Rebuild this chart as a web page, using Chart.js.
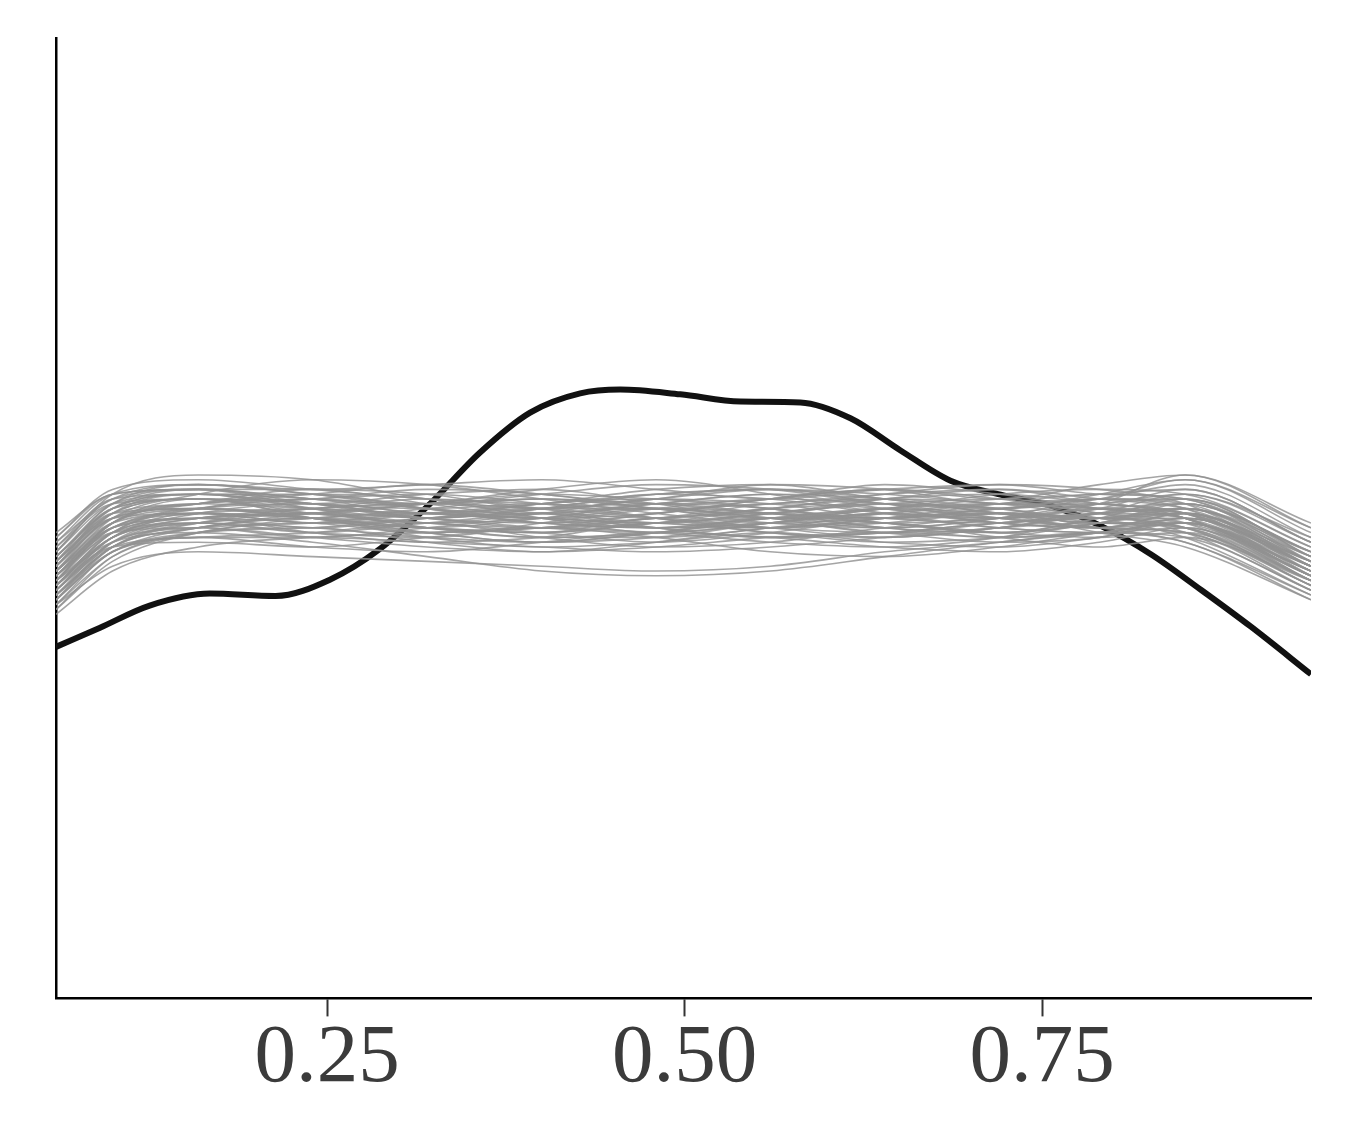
<!DOCTYPE html>
<html>
<head>
<meta charset="utf-8">
<script src="https://cdn.jsdelivr.net/npm/chart.js@4"></script>
<style>
html,body{margin:0;padding:0;background:#fff;}
#wrap{width:1350px;height:1125px;}
</style>
</head>
<body>
<div id="wrap"><canvas id="c" width="1350" height="1125"></canvas></div>
<script>
// x tick labels
const xTicks = [0.25, 0.50, 0.75];
const xMin = 0.0605, xMax = 0.938;

// observed density (black)
const obsX = [0.0605,0.0913,0.126,0.168,0.214,0.252,0.287,0.322,0.357,0.392,0.427,0.455,0.497,0.539,0.581,0.616,0.651,0.686,0.721,0.756,0.791,0.826,0.861,0.896,0.938];
const obsY = [0.732,0.772,0.818,0.843,0.838,0.872,0.936,1.030,1.137,1.220,1.260,1.268,1.258,1.243,1.241,1.208,1.141,1.078,1.049,1.026,0.984,0.925,0.851,0.774,0.675];

// replicated densities (grey), evaluated at these x positions
const repX = [0.0605,0.10,0.16,0.24,0.32,0.40,0.48,0.56,0.64,0.72,0.79,0.85,0.938];
const rep01 = [0.86,0.97,1.02,1.01,0.99,1.00,1.03,1.02,0.99,1.00,1.02,1.01,0.90];
const rep02 = [0.91,1.01,1.04,1.03,1.00,0.98,0.99,1.01,1.03,1.02,0.99,0.98,0.87];
const rep03 = [0.83,0.94,0.99,1.00,1.02,1.04,1.02,0.99,0.98,1.00,1.03,1.04,0.92];
const rep04 = [0.95,1.04,1.07,1.05,1.02,1.01,1.03,1.05,1.04,1.01,1.00,1.02,0.93];
const rep05 = [0.81,0.91,0.97,0.99,0.98,0.97,0.99,1.00,0.98,0.96,0.97,0.99,0.88];
const rep06 = [0.88,0.99,1.03,1.04,1.06,1.05,1.02,1.00,1.01,1.03,1.04,1.03,0.91];
const rep07 = [0.85,0.95,0.99,0.97,0.96,0.99,1.02,1.04,1.03,1.00,0.98,0.97,0.85];
const rep08 = [0.92,1.02,1.05,1.02,0.98,0.96,0.97,1.00,1.02,1.04,1.05,1.06,0.95];
const rep09 = [0.84,0.93,0.96,0.96,0.95,0.94,0.93,0.94,0.96,0.98,0.99,0.98,0.86];
const rep10 = [0.89,1.00,1.05,1.08,1.07,1.04,1.01,0.99,1.00,1.02,1.03,1.00,0.89];
const rep11 = [0.87,0.98,1.01,0.99,1.01,1.03,1.05,1.06,1.04,1.01,0.99,0.99,0.89];
const rep12 = [0.93,1.03,1.05,1.03,1.02,1.03,1.00,0.97,0.96,0.98,1.01,1.05,0.96];
const rep13 = [0.82,0.90,0.93,0.92,0.91,0.90,0.89,0.90,0.93,0.95,0.97,0.96,0.85];
const rep14 = [0.90,1.01,1.02,1.00,0.97,0.98,1.00,1.02,1.05,1.07,1.06,1.03,0.90];
const rep15 = [0.86,0.96,1.00,1.02,1.04,1.02,0.98,0.96,0.97,0.99,1.00,1.00,0.90];
const rep16 = [0.97,1.05,1.06,1.04,1.03,1.05,1.07,1.06,1.03,1.02,1.04,1.08,0.97];
const rep17 = [0.84,0.94,0.98,1.00,0.99,0.97,0.95,0.97,1.00,1.01,0.98,0.95,0.84];
const rep18 = [0.88,0.97,1.00,0.98,1.00,1.02,1.03,1.01,0.99,0.97,0.99,1.02,0.92];
const rep19 = [0.91,1.02,1.06,1.06,1.03,1.00,0.98,0.98,1.00,1.03,1.05,1.04,0.91];
const rep20 = [0.80,0.89,0.94,0.96,0.97,0.98,0.97,0.95,0.94,0.96,1.00,1.01,0.89];
const rep21 = [0.87,0.99,1.04,1.03,1.00,0.99,1.01,1.04,1.06,1.04,1.01,0.99,0.87];
const rep22 = [0.89,0.98,1.01,1.02,1.03,1.01,0.99,0.98,1.00,1.01,1.00,0.99,0.88];
const rep23 = [0.85,0.96,1.01,1.00,0.98,0.96,0.96,0.98,1.01,1.03,1.02,1.00,0.88];
const rep24 = [0.94,1.03,1.04,1.01,0.99,1.01,1.04,1.03,1.00,0.99,1.02,1.06,0.95];
const rep25 = [0.83,0.93,0.97,0.98,1.00,1.01,1.00,1.02,1.03,1.01,0.97,0.94,0.83];
const rep26 = [0.90,1.00,1.03,1.05,1.04,1.00,0.97,0.99,1.02,1.00,0.98,1.00,0.91];
const rep27 = [0.86,0.97,1.00,1.01,1.03,1.06,1.08,1.05,1.01,0.98,0.97,0.98,0.87];
const rep28 = [0.92,1.02,1.04,1.00,0.97,0.95,0.96,0.99,1.01,1.00,1.03,1.09,0.99];
const rep29 = [0.82,0.92,0.97,1.00,1.01,0.99,0.98,1.00,0.99,0.97,0.96,0.97,0.86];
const rep30 = [0.88,0.99,1.03,1.02,1.01,1.02,1.02,1.00,0.98,1.00,1.04,1.04,0.92];
const rep31 = [0.85,0.95,0.98,0.99,1.01,1.00,0.99,1.01,1.04,1.05,1.03,1.01,0.89];
const rep32 = [0.96,1.06,1.08,1.06,1.04,1.03,1.02,1.03,1.05,1.06,1.04,1.02,0.92];
const rep33 = [0.87,0.96,0.99,0.98,0.96,0.95,0.97,1.00,1.00,0.98,0.97,1.00,0.90];
const rep34 = [0.84,0.94,0.99,1.02,1.03,1.02,1.00,0.98,0.97,0.99,1.01,1.03,0.93];
const rep35 = [0.90,1.00,1.02,1.00,0.98,1.00,1.03,1.05,1.02,0.99,0.98,0.99,0.88];
const rep36 = [0.89,0.98,1.00,1.01,1.00,0.98,0.97,0.99,1.02,1.03,1.01,0.97,0.85];
const rep37 = [0.87,0.95,0.97,0.95,0.92,0.89,0.88,0.89,0.92,0.95,0.97,0.99,0.89];
const rep38 = [0.93,1.05,1.09,1.08,1.04,1.02,1.04,1.06,1.05,1.03,1.02,1.01,0.90];
const rep39 = [0.86,0.97,1.02,1.04,1.02,0.99,1.00,1.03,1.04,1.02,1.00,1.01,0.90];
const rep40 = [0.91,1.00,1.01,0.99,1.00,1.03,1.04,1.02,0.99,0.97,0.99,1.03,0.93];
const rep41 = [0.83,0.95,1.00,1.01,0.99,0.98,1.00,1.01,1.00,1.02,1.04,1.02,0.88];
const rep42 = [0.88,0.98,1.02,1.04,1.05,1.03,1.00,0.98,0.99,1.01,1.00,0.98,0.86];
const rep43 = [0.85,0.96,1.00,0.99,0.97,0.98,1.01,1.03,1.02,0.99,0.98,1.01,0.91];
const rep44 = [0.90,1.01,1.04,1.02,1.01,1.00,0.99,1.01,1.03,1.04,1.02,1.00,0.89];
const rep45 = [0.87,0.97,0.99,0.97,0.99,1.01,1.02,1.00,0.97,0.98,1.01,1.02,0.90];
const rep46 = [0.92,1.02,1.05,1.05,1.02,0.99,0.98,1.00,1.02,1.01,0.99,0.99,0.88];
const rep47 = [0.84,0.94,0.98,1.01,1.03,1.04,1.03,1.01,1.00,1.02,1.03,1.00,0.87];
const rep48 = [0.89,0.99,1.01,1.00,0.98,0.97,0.99,1.02,1.04,1.03,1.00,0.96,0.84];
const rep49 = [0.86,0.96,1.01,1.03,1.01,1.00,1.02,1.01,0.98,0.97,1.00,1.04,0.94];
const rep50 = [0.91,1.03,1.06,1.03,1.00,1.02,1.05,1.04,1.01,1.00,1.01,1.02,0.91];
const rep51 = [0.90,1.00,1.02,1.00,0.96,0.94,0.95,0.97,0.95,0.94,0.96,0.99,0.87];
const rep52 = [0.95,1.05,1.07,1.06,1.07,1.08,1.06,1.04,1.06,1.07,1.05,1.04,0.93];
const rep53 = [0.82,0.93,0.96,0.94,0.93,0.95,0.97,0.96,0.94,0.93,0.95,0.98,0.88];
const rep54 = [0.88,0.99,1.03,1.06,1.05,1.02,1.04,1.07,1.06,1.03,1.04,1.07,0.96];
const rep55 = [0.84,0.95,0.98,0.96,0.94,0.93,0.95,0.98,0.99,0.96,0.94,0.96,0.87];
const rep56 = [0.93,1.04,1.06,1.03,1.05,1.06,1.03,1.00,1.02,1.05,1.06,1.05,0.94];
const rep57 = [0.86,0.94,0.95,0.94,0.96,0.98,0.96,0.93,0.92,0.94,0.97,0.99,0.90];
const rep58 = [0.89,1.01,1.05,1.04,1.01,1.03,1.06,1.07,1.04,1.02,1.05,1.08,0.98];
const rep59 = [0.81,0.92,0.97,0.98,0.95,0.93,0.94,0.96,0.97,0.96,0.97,0.95,0.83];
const rep60 = [0.92,1.03,1.07,1.05,1.03,1.04,1.02,1.01,1.04,1.06,1.03,1.01,0.90];
const rep61 = [0.87,0.98,1.00,0.97,0.95,0.96,0.99,0.97,0.95,0.96,0.99,1.01,0.91];
const rep62 = [0.90,1.02,1.04,1.01,1.03,1.05,1.04,1.02,1.00,1.01,1.03,1.05,0.95];
const rep63 = [0.85,0.94,0.96,0.97,0.99,0.96,0.94,0.95,0.98,1.00,0.98,0.97,0.86];
const rep64 = [0.94,1.04,1.05,1.02,1.00,1.02,1.05,1.06,1.03,1.00,1.02,1.03,0.92];
const rep65 = [0.83,0.93,0.98,1.00,0.97,0.95,0.97,0.99,0.97,0.95,0.96,1.00,0.91];
const rep66 = [0.91,1.01,1.03,1.05,1.07,1.05,1.03,1.04,1.07,1.05,1.02,1.00,0.88];
const rep67 = [0.88,0.97,0.98,0.96,0.98,1.00,0.98,0.96,0.97,0.99,1.00,0.98,0.87];
const rep68 = [0.96,1.05,1.06,1.04,1.02,1.00,1.01,1.04,1.06,1.04,1.07,1.09,0.98];
const rep69 = [0.86,0.96,0.99,1.01,0.98,0.97,1.00,0.98,0.96,0.98,1.01,1.00,0.89];
const rep70 = [0.89,0.99,1.02,1.03,1.00,1.01,0.98,0.99,1.01,0.99,0.98,1.01,0.90];

const reps = [rep01,rep02,rep03,rep04,rep05,rep06,rep07,rep08,rep09,rep10,
  rep11,rep12,rep13,rep14,rep15,rep16,rep17,rep18,rep19,rep20,
  rep21,rep22,rep23,rep24,rep25,rep26,rep27,rep28,rep29,rep30,
  rep31,rep32,rep33,rep34,rep35,rep36,rep37,rep38,rep39,rep40,
  rep41,rep42,rep43,rep44,rep45,rep46,rep47,rep48,rep49,rep50,
  rep51,rep52,rep53,rep54,rep55,rep56,rep57,rep58,rep59,rep60,
  rep61,rep62,rep63,rep64,rep65,rep66,rep67,rep68,rep69,rep70];

const datasets = reps.map(r => ({
  data: repX.map((x,i) => ({x:x, y:r[i]})),
  borderColor: 'rgba(145,145,145,0.82)',
  borderWidth: 1.6,
  pointRadius: 0,
  cubicInterpolationMode: 'monotone',
  fill: false
}));
datasets.push({
  data: obsX.map((x,i) => ({x:x, y:obsY[i]})),
  borderColor: '#111111',
  borderWidth: 6,
  pointRadius: 0,
  cubicInterpolationMode: 'monotone',
  fill: false
});

new Chart(document.getElementById('c'), {
  type: 'line',
  data: { datasets: datasets },
  options: {
    responsive: false,
    animation: false,
    layout: { padding: { left: 56, right: 39, top: 38, bottom: 23 } },
    plugins: { legend: { display: false }, tooltip: { enabled: false } },
    scales: {
      x: {
        type: 'linear',
        min: xMin, max: xMax,
        afterBuildTicks: s => { s.ticks = xTicks.map(v => ({value: v})); },
        grid: { display: true, drawOnChartArea: false, drawTicks: true, tickLength: 18, tickWidth: 2, tickColor: '#333333' },
        border: { display: true, color: '#000000', width: 2.5 },
        ticks: {
          padding: -7,
          color: '#3b3b3b',
          font: { family: '"Liberation Serif", "Times New Roman", serif', size: 83 },
          callback: v => Number(v).toFixed(2),
          maxRotation: 0,
          autoSkip: false
        }
      },
      y: {
        type: 'linear',
        min: 0, max: 2.0,
        grid: { display: false, drawTicks: false },
        border: { display: true, color: '#000000', width: 2.5 },
        ticks: { display: false }
      }
    }
  }
});
</script>
</body>
</html>
